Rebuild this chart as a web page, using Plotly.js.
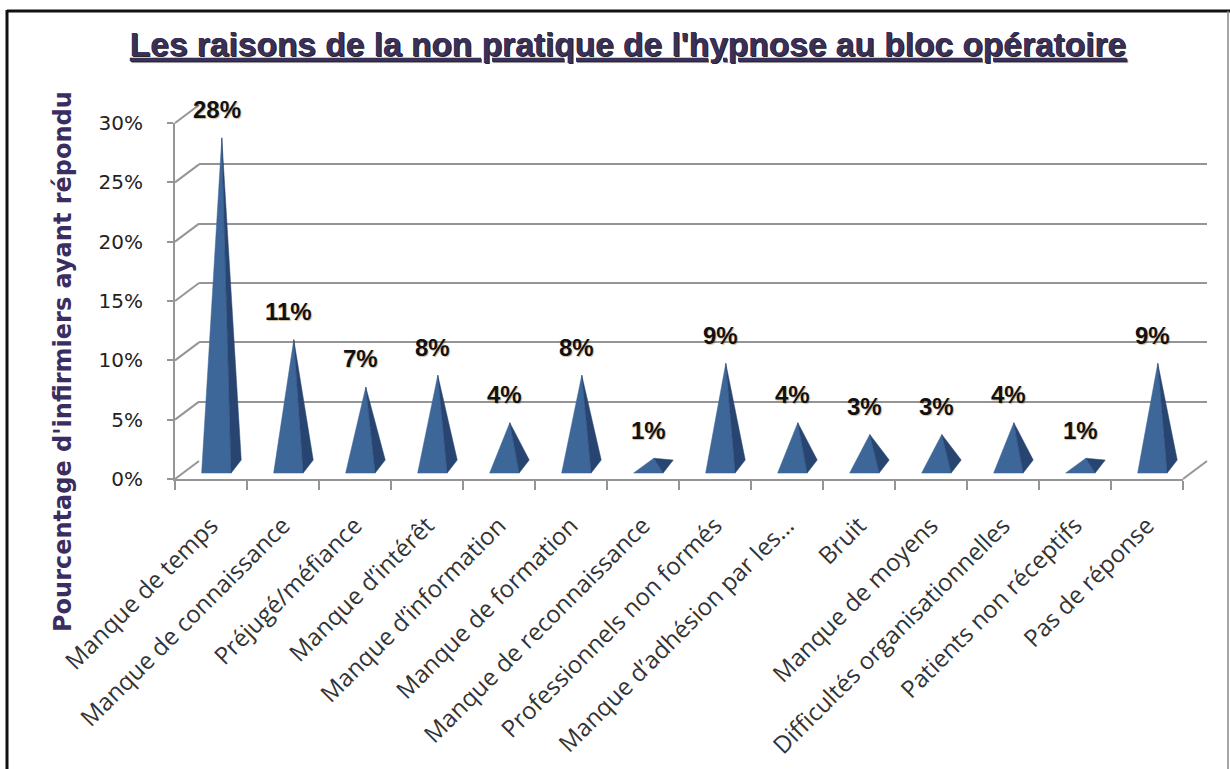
<!DOCTYPE html>
<html>
<head>
<meta charset="utf-8">
<script src="https://cdn.plot.ly/plotly-3.0.1.min.js"></script>
<style>html,body{margin:0;padding:0;background:#fff;}#chart{width:1230px;height:769px;}</style>
</head>
<body>
<div id="chart"></div>
<script>
const categories = ["Manque de temps","Manque de connaissance","Préjugé/méfiance","Manque d’intérêt","Manque d’information","Manque de formation","Manque de reconnaissance","Professionnels non formés","Manque d’adhésion par les…","Bruit","Manque de moyens","Difficultés organisationnelles","Patients non réceptifs","Pas de réponse"];
const values = [28, 11, 7, 8, 4, 8, 1, 9, 4, 3, 3, 4, 1, 9];
const valueLabels = values.map(v => v + "%");
const yTickVals = [0, 5, 10, 15, 20, 25, 30];
const yTickText = yTickVals.map(v => v + "%");
const chartTitle = "Les raisons de la non pratique de l'hypnose au bloc opératoire";
const yTitle = "Pourcentage d'infirmiers ayant répondu";

// geometry (pixels)
const W = 1230, H = 769;
const L = 175, R = 23, T = 105, B = 290;
const plotW = W - L - R, plotH = H - T - B;
const depthX = 24, depthY = 18;
const fx = [0, (plotW - depthX) / plotW];
const fy = [0, (plotH - depthY) / plotH];
const bx = [depthX / plotW, 1];
const by = [depthY / plotH, 1];
const yMax = 30;

// pyramid shape (category / percent units, style only)
const P = {left: -0.13, right: 0.28, back: 0.42, apex: 0.15, base: 0.5, backY: 1.6, lift: 0.75};

const frontX = [], frontY = [], darkX = [], darkY = [];
values.forEach((v, i) => {
  frontX.push(i + P.left, i + P.right, i + P.apex, i + P.left, null);
  frontY.push(P.base, P.base, v + P.lift, P.base, null);
  darkX.push(i + P.right, i + P.back, i + P.apex, i + P.right, null);
  darkY.push(P.base, P.backY, v + P.lift, P.base, null);
});

const traces = [
  {x: [], y: [], xaxis: 'x', yaxis: 'y', type: 'scatter', mode: 'lines', showlegend: false, hoverinfo: 'skip'},
  {x: frontX, y: frontY, xaxis: 'x2', yaxis: 'y2', type: 'scatter', mode: 'lines', fill: 'toself',
   fillcolor: '#3d6699', line: {color: '#3d6699', width: 0.5}, showlegend: false, hoverinfo: 'skip'},
  {x: darkX, y: darkY, xaxis: 'x2', yaxis: 'y2', type: 'scatter', mode: 'lines', fill: 'toself',
   fillcolor: '#284571', line: {color: '#284571', width: 0.5}, showlegend: false, hoverinfo: 'skip'}
];

const gridCol = '#959595';
const shapes = [];
const fyp = t => fy[0] + (t / yMax) * (fy[1] - fy[0]);
const byp = t => by[0] + (t / yMax) * (by[1] - by[0]);
yTickVals.forEach(t => {
  shapes.push({type: 'line', xref: 'paper', yref: 'paper', x0: fx[0], y0: fyp(t), x1: bx[0], y1: byp(t),
    line: {color: gridCol, width: 2}, layer: 'below'});
});
shapes.push({type: 'line', xref: 'paper', yref: 'paper', x0: fx[1], y0: fyp(0), x1: bx[1], y1: byp(0),
  line: {color: gridCol, width: 2}, layer: 'below'});
const pxX = p => (p - L) / plotW, pxY = p => (H - B - p) / plotH;
shapes.push({type: 'line', xref: 'paper', yref: 'paper', x0: pxX(7), y0: pxY(11), x1: pxX(1230), y1: pxY(11), line: {color: '#111', width: 3}});
shapes.push({type: 'line', xref: 'paper', yref: 'paper', x0: pxX(7), y0: pxY(10), x1: pxX(7), y1: pxY(780), line: {color: '#111', width: 3}});
shapes.push({type: 'line', xref: 'paper', yref: 'paper', x0: pxX(1228), y0: pxY(11), x1: pxX(1228), y1: pxY(780), line: {color: '#888', width: 1.5}});

const annotations = values.map((v, i) => ({
  xref: 'x2', yref: 'y2', x: i + 0.08, y: v, yshift: 37, showarrow: false,
  text: '<b>' + valueLabels[i] + '</b>',
  font: {family: 'Liberation Sans, Arial', size: 24, color: '#111', shadow: '1px 1px 1px rgba(120,70,0,0.35)'}
}));
annotations.push({
  xref: 'paper', yref: 'paper', x: pxX(63), y: pxY(362), textangle: -90, showarrow: false,
  xanchor: 'center', yanchor: 'middle',
  text: '<b>' + yTitle + '</b>',
  font: {family: 'DejaVu Sans', size: 24, color: '#3b2d60'}
});

const layout = {
  width: W, height: H, autosize: false,
  margin: {l: L, r: R, t: T, b: B, pad: 0},
  paper_bgcolor: '#fff', plot_bgcolor: 'rgba(0,0,0,0)',
  showlegend: false,
  title: {
    text: '<b><u>' + chartTitle + '</u></b>',
    x: 628 / W, xref: 'container', xanchor: 'center',
    y: 1 - 44 / H, yref: 'container', yanchor: 'middle',
    font: {family: 'Liberation Sans, Arial', size: 33.5, color: '#3b3058', shadow: '1px 1px 0px rgba(0,0,0,0.6)'}
  },
  xaxis: {domain: bx, range: [-0.5, 13.5], anchor: 'y', showgrid: false, zeroline: false, showline: false,
    showticklabels: false, ticks: '', fixedrange: true},
  yaxis: {domain: by, range: [0, yMax], anchor: 'x', showgrid: true, gridcolor: gridCol, gridwidth: 2,
    tickvals: yTickVals, zeroline: false, showline: false, showticklabels: false, ticks: '', fixedrange: true},
  xaxis2: {domain: fx, range: [-0.5, 13.5], anchor: 'y2', showgrid: false, zeroline: false,
    showline: true, linecolor: gridCol, linewidth: 2,
    tickmode: 'array', tickvals: categories.map((c, i) => i), ticktext: categories,
    tickangle: -45, ticks: '',
    minor: {tickmode: 'linear', tick0: -0.5, dtick: 1, ticks: 'outside', ticklen: 9, tickcolor: gridCol, tickwidth: 2, showgrid: false},
    ticklabelstandoff: 21,
    tickfont: {family: 'Open Sans', size: 24, color: '#333'}, fixedrange: true},
  yaxis2: {domain: fy, range: [0, yMax], anchor: 'x2', showgrid: false, zeroline: false,
    showline: true, linecolor: gridCol, linewidth: 2,
    tickmode: 'array', tickvals: yTickVals, ticktext: yTickText,
    ticks: 'outside', ticklen: 6, tickcolor: gridCol, tickwidth: 2, ticklabelstandoff: 20,
    tickfont: {family: 'DejaVu Sans', size: 20, color: '#222'}, fixedrange: true},
  shapes: shapes,
  annotations: annotations
};

Plotly.newPlot('chart', traces, layout, {staticPlot: true, displayModeBar: false});
</script>
</body>
</html>
